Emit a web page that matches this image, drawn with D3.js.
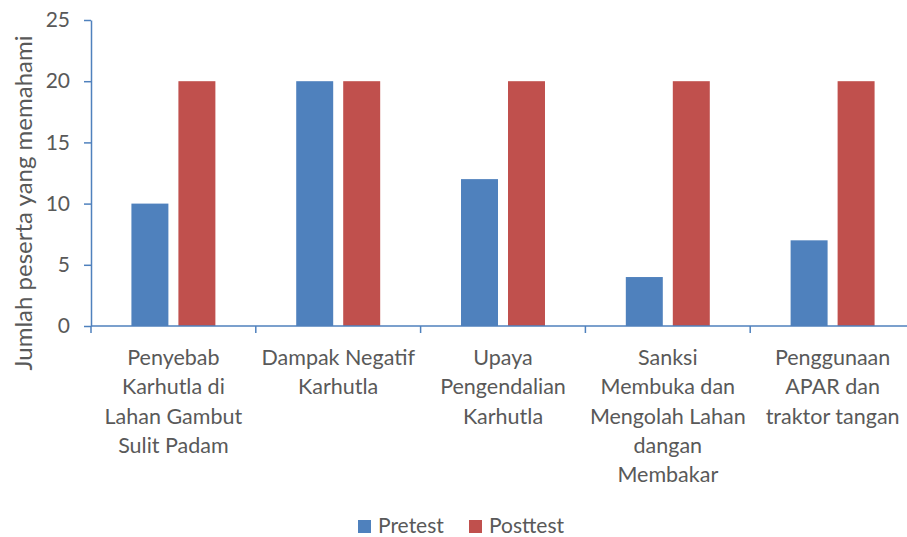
<!DOCTYPE html>
<html>
<head>
<meta charset="utf-8">
<script src="https://cdn.jsdelivr.net/npm/d3@7"></script>
<style>
  body { margin: 0; background: #fff; }
  svg text { font-family: Lato, "Open Sans", sans-serif; fill: #595959; }
</style>
</head>
<body>
<svg id="chart" width="907" height="537"></svg>
<script>
// category labels, already broken into lines like the original
const categories = [
  ["Penyebab", "Karhutla di", "Lahan Gambut", "Sulit Padam"],
  ["Dampak Negatif", "Karhutla"],
  ["Upaya", "Pengendalian", "Karhutla"],
  ["Sanksi", "Membuka dan", "Mengolah Lahan", "dangan", "Membakar"],
  ["Penggunaan", "APAR dan", "traktor tangan"]
]
const pretest = [10, 20, 12, 4, 7]
const posttest = [20, 20, 20, 20, 20]
const seriesNames = ["Pretest", "Posttest"]
const colors = ["#4f81bd", "#c0504d"]
const yTicks = [0, 5, 10, 15, 20, 25]

const svg = d3.select("#chart")
const plotLeft = 91, plotRight = 915, plotTop = 20, plotBottom = 326
const axisColor = "#4f81bd"

const x = d3.scaleBand()
  .domain(d3.range(categories.length))
  .range([plotLeft, plotRight])
  .paddingInner(0)
  .paddingOuter(0)

const y = d3.scaleLinear().domain([0, 25]).range([plotBottom, plotTop])

// group of two bars within each band
const inner = d3.scaleBand()
  .domain([0, 1])
  .range([0, x.bandwidth()])
  .paddingInner(0.213)
  .paddingOuter(0.86)

const rows = categories.map((c, i) => [pretest[i], posttest[i]])

svg.append("g")
  .selectAll("g")
  .data(rows)
  .join("g")
  .attr("transform", (d, i) => "translate(" + x(i) + ",0)")
  .selectAll("rect")
  .data(d => d)
  .join("rect")
  .attr("x", (d, j) => inner(j))
  .attr("width", inner.bandwidth())
  .attr("y", d => y(d))
  .attr("height", d => y(0) - y(d))
  .attr("fill", (d, j) => colors[j])

// y axis
const yAxis = svg.append("g")
  .attr("transform", "translate(" + plotLeft + ",0)")
  .call(d3.axisLeft(y).tickValues(yTicks).tickSize(7).tickSizeOuter(0).tickPadding(14))
yAxis.select(".domain").attr("stroke", axisColor).attr("stroke-width", 1.5)
yAxis.selectAll(".tick line").attr("stroke", axisColor).attr("stroke-width", 1.5)
yAxis.selectAll(".tick text")
  .style("font-size", "21px")
  .attr("fill", "#595959")

// x axis: line plus boundary ticks between categories
const xg = svg.append("g")
xg.append("line")
  .attr("x1", plotLeft).attr("x2", 907)
  .attr("y1", y(0)).attr("y2", y(0))
  .attr("stroke", axisColor).attr("stroke-width", 1.5)
xg.selectAll("line.bound")
  .data(d3.range(categories.length + 1))
  .join("line")
  .attr("class", "bound")
  .attr("x1", i => i < categories.length ? x(i) : x(i - 1) + x.bandwidth())
  .attr("x2", i => i < categories.length ? x(i) : x(i - 1) + x.bandwidth())
  .attr("y1", y(0)).attr("y2", y(0) + 7)
  .attr("stroke", axisColor).attr("stroke-width", 1.5)

xg.selectAll("text.cat")
  .data(categories)
  .join("text")
  .attr("class", "cat")
  .attr("text-anchor", "middle")
  .style("font-size", "21.5px")
  .attr("transform", (d, i) => "translate(" + (x(i) + x.bandwidth() / 2) + "," + 365 + ")")
  .selectAll("tspan")
  .data(d => d)
  .join("tspan")
  .attr("x", 0)
  .attr("y", (d, k) => k * 29.3)
  .text(d => d)

// y axis title
svg.append("text")
  .attr("transform", "translate(32,203) rotate(-90)")
  .attr("text-anchor", "middle")
  .style("font-size", "24px")
  .text("Jumlah peserta yang memahami")

// legend
const legendX = [358, 469]
const legend = svg.append("g")
  .selectAll("g")
  .data(seriesNames)
  .join("g")
  .attr("transform", (d, i) => "translate(" + legendX[i] + ",520)")
legend.append("rect")
  .attr("width", 13).attr("height", 13)
  .attr("fill", (d, i) => colors[i])
legend.append("text")
  .attr("x", 20).attr("y", 13)
  .style("font-size", "21px")
  .text(d => d)
</script>
</body>
</html>
